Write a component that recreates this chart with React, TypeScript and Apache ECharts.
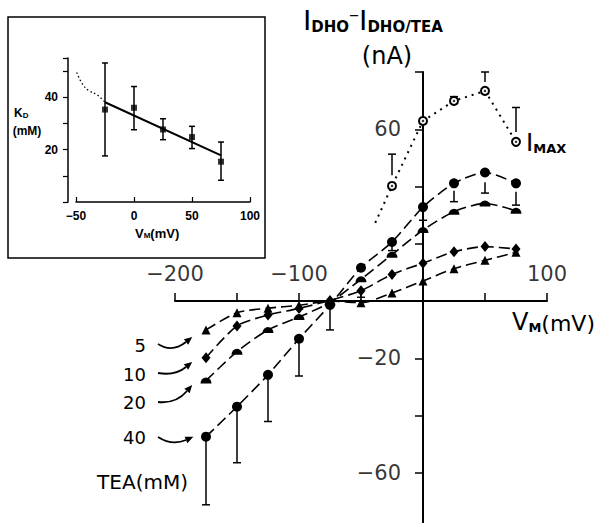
import React, { useEffect, useRef } from 'react';
import * as echarts from 'echarts';

// ---- main panel data ----
const voltages = [-175, -150, -125, -100, -75, -50, -25, 0, 25, 50, 75];
const tea5 = [-10.1, -4.1, -2.5, -1.5, 0, -0.6, 2.8, 7.0, 11.3, 14.2, 17.0];
const tea10 = [-19.8, -8.7, -4.9, -2.6, 0.2, 3.6, 9.3, 13.2, 17.2, 19.0, 18.2];
const tea20 = [-27.8, -17.7, -10.1, -5.6, -0.5, 7.6, 16.2, 24.8, 31.2, 34.1, 31.5];
const tea40 = [-47.4, -36.9, -25.8, -13.2, -1.4, 11.6, 20.6, 32.8, 41.1, 44.9, 41.1];

const imaxV = [-38.5, -25, 0, 25, 50, 75];
const imaxI = [27.3, 40.2, 62.9, 69.9, 73.4, 55.6];

const err40V = [-175, -150, -125, -100, -75, -25, 0, 25, 50, 75];
const err40From = [-47.4, -36.9, -25.8, -13.2, -1.4, 19.5, 30.5, 38.5, 41.5, 38.2];
const err40To = [-71.2, -56.5, -42.1, -26.2, -10.1, 17.6, 28.2, 34.7, 37.7, 33.5];

const err10V = [-50];
const err10From = [3.6];
const err10To = [1.3];

const errImaxV = [-25, 25, 50, 75];
const errImaxFrom = [43.9, 69.9, 76.5, 59.0];
const errImaxTo = [51.3, 71.4, 80.0, 67.6];

const xTickLabels = [-200, -100, 100];
const yTickLabels = [60, -20, -60];

const teaLabels = ['5', '10', '20', '40'];

// ---- inset data ----
const insetV = [-25, 0, 25, 50, 75];
const insetKd = [35.3, 36.0, 27.7, 24.8, 15.4];
const insetHi = [53.1, 44.1, 31.8, 28.9, 22.9];
const insetLo = [17.6, 27.6, 23.8, 20.4, 8.3];
const fitV = [-25, 75];
const fitKd = [38.1, 17.8];
const extV = [-49.4, -44.5, -38.8, -31.6, -25];
const extKd = [49.5, 45.1, 42.5, 40.9, 38.1];
const insetYLabels = [20, 40];

const F = 'DejaVu Sans';
const FL = 'Liberation Sans';

const fmt = (v: number) => (v < 0 ? '\u2212' + Math.abs(v) : String(v));
const pairs = (xs: number[], ys: number[]) => xs.map((x, i) => [x, ys[i]]);

function errSeries(xs: number[], from: number[], to: number[], idx: number, both: boolean, capW: number) {
  return {
    type: 'custom',
    xAxisIndex: idx,
    yAxisIndex: idx,
    z: 1,
    silent: true,
    data: xs.map((x, i) => [x, from[i], to[i]]),
    encode: { x: 0, y: [1, 2] },
    renderItem: (_p: any, api: any) => {
      const x = api.value(0);
      const p1 = api.coord([x, api.value(1)]);
      const p2 = api.coord([x, api.value(2)]);
      const st = { stroke: '#000', lineWidth: 1.5 };
      const children: any[] = [
        { type: 'line', shape: { x1: p1[0], y1: p1[1], x2: p2[0], y2: p2[1] }, style: st },
        { type: 'line', shape: { x1: p2[0] - capW / 2, y1: p2[1], x2: p2[0] + capW / 2, y2: p2[1] }, style: st },
      ];
      if (both) {
        children.push({ type: 'line', shape: { x1: p1[0] - capW / 2, y1: p1[1], x2: p1[0] + capW / 2, y2: p1[1] }, style: st });
      }
      return { type: 'group', children };
    },
  };
}

function arrow(x1: number, y1: number, cx: number, cy: number, x2: number, y2: number) {
  const dx = x2 - cx;
  const dy = y2 - cy;
  const len = Math.sqrt(dx * dx + dy * dy);
  const ux = dx / len;
  const uy = dy / len;
  const tipX = x2 + ux * 8;
  const tipY = y2 + uy * 8;
  const px = -uy * 3.5;
  const py = ux * 3.5;
  return [
    {
      type: 'bezierCurve',
      shape: { x1, y1, x2, y2, cpx1: cx, cpy1: cy },
      style: { stroke: '#000', lineWidth: 1.8, fill: 'none' },
    },
    {
      type: 'polygon',
      shape: { points: [[tipX, tipY], [x2 + px, y2 + py], [x2 - px, y2 - py]] },
      style: { fill: '#000' },
    },
  ];
}

const halfDisc = 'path://M0,10 A10,10 0 0 1 20,10 Z';
const dash = [11, 5];

export default function App() {
  const ref = useRef<HTMLDivElement>(null);
  useEffect(() => {
    const chart = echarts.init(ref.current as HTMLDivElement, null, { renderer: 'svg' });
    const lineBase = (name: string, data: number[], symbol: string, size: any) => ({
      name,
      type: 'line',
      xAxisIndex: 0,
      yAxisIndex: 0,
      data: pairs(voltages, data),
      symbol,
      symbolSize: size,
      smooth: 0.25,
      z: 3,
      itemStyle: { color: '#000' },
      lineStyle: { color: '#000', width: 1.6, type: dash },
    });

    const arrows = [
      ...arrow(158, 344, 172, 353, 186, 342),
      ...arrow(158, 373, 175, 376, 186, 367),
      ...arrow(158, 402, 176, 404, 187, 391),
      ...arrow(158, 437, 172, 446, 186, 440),
    ];
    const labelYs = [345, 374, 402, 437];
    const tickLabelStyle = { fontSize: 21, fontFamily: F, color: '#000' };

    const option: any = {
      animation: false,
      backgroundColor: '#fff',
      grid: [
        { left: 175, top: 72, width: 372, height: 458, outerBoundsMode: 'none' },
        { left: 76, top: 58, width: 174, height: 144, outerBoundsMode: 'none' },
      ],
      xAxis: [
        {
          type: 'value',
          gridIndex: 0,
          min: -200,
          max: 100,
          interval: 50,
          axisLine: { onZero: true, lineStyle: { color: '#000', width: 2 } },
          axisTick: { inside: true, length: 8, lineStyle: { color: '#000', width: 1.5 } },
          axisLabel: { show: false },
          splitLine: { show: false },
        },
        {
          type: 'value',
          gridIndex: 1,
          min: -50,
          max: 100,
          interval: 50,
          axisLine: { onZero: false, lineStyle: { color: '#000', width: 1.5 } },
          axisTick: { inside: true, length: 5, lineStyle: { color: '#000', width: 1.2 } },
          axisLabel: { margin: 8, fontSize: 12, fontWeight: 'bold', fontFamily: FL, color: '#000', formatter: fmt },
          splitLine: { show: false },
        },
      ],
      yAxis: [
        {
          type: 'value',
          gridIndex: 0,
          min: -80,
          max: 80,
          interval: 20,
          axisLine: { onZero: true, lineStyle: { color: '#000', width: 2 } },
          axisTick: { length: 8, lineStyle: { color: '#000', width: 1.5 } },
          axisLabel: { show: false },
          splitLine: { show: false },
        },
        {
          type: 'value',
          gridIndex: 1,
          min: 0,
          max: 55,
          interval: 10,
          offset: 8,
          axisLine: { onZero: false, lineStyle: { color: '#000', width: 1.5 } },
          axisTick: { length: 5, lineStyle: { color: '#000', width: 1.2 } },
          axisLabel: {
            margin: 10,
            fontSize: 12,
            fontWeight: 'bold',
            fontFamily: FL,
            color: '#000',
            formatter: (v: number) => (insetYLabels.includes(v) ? String(v) : ''),
          },
          splitLine: { show: false },
        },
      ],
      series: [
        // tick labels attached to the crossing axes
        {
          type: 'scatter',
          xAxisIndex: 0,
          yAxisIndex: 0,
          silent: true,
          symbolSize: 0,
          itemStyle: { color: 'rgba(0,0,0,0)' },
          data: xTickLabels.map((v) => [v, 0]),
          label: {
            show: true,
            position: 'top',
            distance: 17,
            formatter: (p: any) => fmt(p.value[0]),
            ...tickLabelStyle,
          },
        },
        {
          type: 'scatter',
          xAxisIndex: 0,
          yAxisIndex: 0,
          silent: true,
          symbolSize: 0,
          itemStyle: { color: 'rgba(0,0,0,0)' },
          data: yTickLabels.map((v) => [0, v]),
          label: {
            show: true,
            position: 'left',
            distance: 22,
            formatter: (p: any) => fmt(p.value[1]),
            ...tickLabelStyle,
          },
        },
        errSeries(err40V, err40From, err40To, 0, false, 8),
        errSeries(err10V, err10From, err10To, 0, false, 8),
        errSeries(errImaxV, errImaxFrom, errImaxTo, 0, false, 8),
        lineBase('5 mM', tea5, 'triangle', 9),
        lineBase('10 mM', tea10, 'diamond', [9, 11]),
        lineBase('20 mM', tea20, halfDisc, [11, 6]),
        lineBase('40 mM', tea40, 'circle', 10),
        {
          name: 'IMAX',
          type: 'line',
          xAxisIndex: 0,
          yAxisIndex: 0,
          z: 3,
          data: imaxV.map((v, i) => (i === 0 ? { value: [v, imaxI[i]], symbol: 'none' } : [v, imaxI[i]])),
          symbol: 'emptyCircle',
          symbolSize: 8,
          itemStyle: { color: '#000', borderWidth: 1.5 },
          lineStyle: { color: '#000', width: 2, type: [2, 5] },
        },
        {
          type: 'scatter',
          xAxisIndex: 0,
          yAxisIndex: 0,
          z: 4,
          silent: true,
          data: pairs(imaxV.slice(1), imaxI.slice(1)),
          symbol: 'circle',
          symbolSize: 2.5,
          itemStyle: { color: '#000' },
        },
        // inset
        errSeries(insetV, insetLo, insetHi, 1, true, 6),
        {
          type: 'scatter',
          xAxisIndex: 1,
          yAxisIndex: 1,
          z: 4,
          data: pairs(insetV, insetKd),
          symbol: 'rect',
          symbolSize: 6,
          itemStyle: { color: '#000' },
        },
        {
          type: 'line',
          xAxisIndex: 1,
          yAxisIndex: 1,
          data: pairs(fitV, fitKd),
          symbol: 'none',
          lineStyle: { color: '#000', width: 2 },
        },
        {
          type: 'line',
          xAxisIndex: 1,
          yAxisIndex: 1,
          data: pairs(extV, extKd),
          symbol: 'none',
          smooth: 0.4,
          lineStyle: { color: '#000', width: 1.3, type: [1.5, 2.5] },
        },
      ],
      graphic: [
        {
          type: 'rect',
          shape: { x: 8, y: 17, width: 257, height: 241 },
          style: { fill: 'none', stroke: '#000', lineWidth: 1.5 },
        },
        {
          type: 'text',
          x: 303,
          y: 4,
          style: {
            text: '{i|I}{s|DHO}{d|\u2013}{i|I}{s|DHO/TEA}',
            fill: '#000',
            rich: {
              i: { fontSize: 30, fontFamily: FL, verticalAlign: 'bottom' },
              s: { fontSize: 15, fontWeight: 'bold', fontFamily: F, verticalAlign: 'bottom' },
              d: { fontSize: 20, fontFamily: F, verticalAlign: 'top' },
            },
          },
        },
        {
          type: 'text',
          x: 387,
          y: 56,
          style: { text: '(nA)', fontSize: 24, fontFamily: F, fill: '#000', align: 'center', verticalAlign: 'middle' },
        },
        {
          type: 'text',
          x: 512,
          y: 322,
          style: {
            text: '{v|V}{m|M}{p|(mV)}',
            verticalAlign: 'middle',
            fill: '#000',
            rich: {
              v: { fontSize: 24, fontFamily: F, verticalAlign: 'bottom' },
              m: { fontSize: 13, fontWeight: 'bold', fontFamily: F, verticalAlign: 'bottom' },
              p: { fontSize: 22, fontFamily: F, verticalAlign: 'bottom' },
            },
          },
        },
        {
          type: 'text',
          x: 526,
          y: 142,
          style: {
            text: '{i|I}{m|MAX}',
            verticalAlign: 'middle',
            fill: '#000',
            rich: {
              i: { fontSize: 26, fontFamily: FL, verticalAlign: 'bottom' },
              m: { fontSize: 13, fontWeight: 'bold', fontFamily: F, verticalAlign: 'bottom' },
            },
          },
        },
        ...teaLabels.map((t, i) => ({
          type: 'text',
          x: 146,
          y: labelYs[i],
          style: { text: t, fontSize: 18, fontFamily: F, fill: '#000', align: 'right', verticalAlign: 'middle' },
        })),
        ...arrows,
        {
          type: 'text',
          x: 188,
          y: 482,
          style: { text: 'TEA(mM)', fontSize: 20, fontFamily: F, fill: '#000', align: 'right', verticalAlign: 'middle' },
        },
        {
          type: 'text',
          x: 14,
          y: 113,
          style: {
            text: '{k|K}{d|D}',
            verticalAlign: 'middle',
            fill: '#000',
            rich: {
              k: { fontSize: 12, fontWeight: 'bold', fontFamily: FL, verticalAlign: 'bottom' },
              d: { fontSize: 8, fontWeight: 'bold', fontFamily: FL, verticalAlign: 'bottom' },
            },
          },
        },
        {
          type: 'text',
          x: 27,
          y: 131,
          style: { text: '(mM)', fontSize: 12, fontWeight: 'bold', fontFamily: FL, fill: '#000', align: 'center', verticalAlign: 'middle' },
        },
        {
          type: 'text',
          x: 135,
          y: 233,
          style: {
            text: '{v|V}{m|M}{p|(mV)}',
            verticalAlign: 'middle',
            fill: '#000',
            rich: {
              v: { fontSize: 13, fontWeight: 'bold', fontFamily: FL, verticalAlign: 'bottom' },
              m: { fontSize: 8, fontWeight: 'bold', fontFamily: FL, verticalAlign: 'bottom' },
              p: { fontSize: 13, fontWeight: 'bold', fontFamily: FL, verticalAlign: 'bottom' },
            },
          },
        },
      ],
    };
    chart.setOption(option);
    return () => chart.dispose();
  }, []);
  return (
    <div
      ref={ref}
      style={{ position: 'fixed', left: 0, top: 0, width: 599, height: 523, background: '#fff' }}
    />
  );
}
